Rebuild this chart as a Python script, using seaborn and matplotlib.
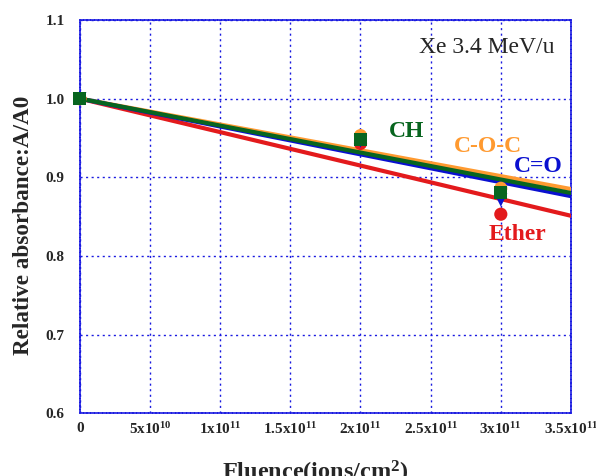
import numpy as np
import pandas as pd
import matplotlib
matplotlib.use("Agg")
import matplotlib.pyplot as plt
import seaborn as sns

# measured points (fluence in ions/cm2, relative absorbance A/A0)
fluence = [0, 2e11, 3e11]
ether = [1.0, 0.943, 0.853]
coc = [1.0, 0.953, 0.886]
co = [1.0, 0.946, 0.871]
ch = [1.0, 0.948, 0.881]

# fitted lines, value at the end of the axis (3.5e11)
fit_x = [0, 3.5e11]
fit_ether = [1.0, 0.851]
fit_coc = [1.0, 0.885]
fit_co = [1.0, 0.876]
fit_ch = [1.0, 0.880]

x_ticks = [0, 5e10, 1e11, 1.5e11, 2e11, 2.5e11, 3e11, 3.5e11]
x_tick_labels = ["0", "5x10$^{10}$", "1x10$^{11}$", "1.5x10$^{11}$", "2x10$^{11}$",
                 "2.5x10$^{11}$", "3x10$^{11}$", "3.5x10$^{11}$"]
y_ticks = [0.6, 0.7, 0.8, 0.9, 1.0, 1.1]

sns.set_style("white")
plt.rcParams["font.family"] = ["Liberation Serif", "DejaVu Serif"]
plt.rcParams["mathtext.default"] = "regular"

colors = {"Ether": "#e31a1c", "C-O-C": "#ff9a30", "C=O": "#0a10d0", "CH": "#08651f"}
markers = {"Ether": "o", "C-O-C": "o", "C=O": "v", "CH": "s"}

pts = pd.DataFrame({
    "x": fluence * 4,
    "y": ether + coc + co + ch,
    "group": ["Ether"] * 3 + ["C-O-C"] * 3 + ["C=O"] * 3 + ["CH"] * 3,
})
fits = pd.DataFrame({
    "x": fit_x * 4,
    "y": fit_ether + fit_coc + fit_co + fit_ch,
    "group": ["Ether"] * 2 + ["C-O-C"] * 2 + ["C=O"] * 2 + ["CH"] * 2,
})

fig = plt.figure(figsize=(5.96, 4.76), dpi=100)
ax = fig.add_axes([0.134, 0.132, 0.824, 0.826])

order = ["Ether", "C-O-C", "C=O", "CH"]
for g in order:
    sns.lineplot(data=fits[fits.group == g], x="x", y="y", color=colors[g],
                 linewidth=3, ax=ax, zorder=3)
for g in order:
    sub = pts[pts.group == g]
    sns.scatterplot(data=sub, x="x", y="y", color=colors[g], marker=markers[g],
                    s=90, edgecolor="none", ax=ax, zorder=4, clip_on=False)

ax.set_xlim(0, 3.5e11)
ax.set_ylim(0.6, 1.1)
ax.set_xticks(x_ticks)
ax.set_xticklabels(x_tick_labels)
ax.set_yticks(y_ticks)
ax.set_yticklabels([f"{v:.1f}" for v in y_ticks])
ax.tick_params(length=0, labelsize=11)
ax.tick_params(axis="x", pad=6)
ax.tick_params(axis="y", pad=11)
for lab in ax.get_xticklabels() + ax.get_yticklabels():
    lab.set_fontweight("bold")

ax.grid(True, color="#1a1ae0", linestyle=(0, (1.5, 2.5)), linewidth=1)
for sp in ax.spines.values():
    sp.set_color("#1a1ae0")
    sp.set_linestyle((0, (1.5, 0.8)))
    sp.set_linewidth(1.2)

ax.set_xlabel("Fluence(ions/cm$^{2}$)", fontsize=17.5, fontweight="bold", labelpad=15.5)
ax.set_ylabel("Relative absorbance:A/A0", fontsize=16.7, fontweight="bold", labelpad=8)
ax.xaxis.label.set_x(0.48)
ax.yaxis.label.set_y(0.478)

ax.text(0.967, 0.93, "Xe 3.4 MeV/u", transform=ax.transAxes, ha="right", va="center",
        fontsize=17)
ax.text(2.33e11, 0.958, "CH", color=colors["CH"], fontsize=17, fontweight="bold",
        ha="center", va="center")
ax.text(2.905e11, 0.939, "C-O-C", color=colors["C-O-C"], fontsize=17, fontweight="bold",
        ha="center", va="center")
ax.text(3.265e11, 0.914, "C=O", color=colors["C=O"], fontsize=17, fontweight="bold",
        ha="center", va="center")
ax.text(3.12e11, 0.827, "Ether", color=colors["Ether"], fontsize=17, fontweight="bold",
        ha="center", va="center")

fig.savefig("out.png", dpi=100)
